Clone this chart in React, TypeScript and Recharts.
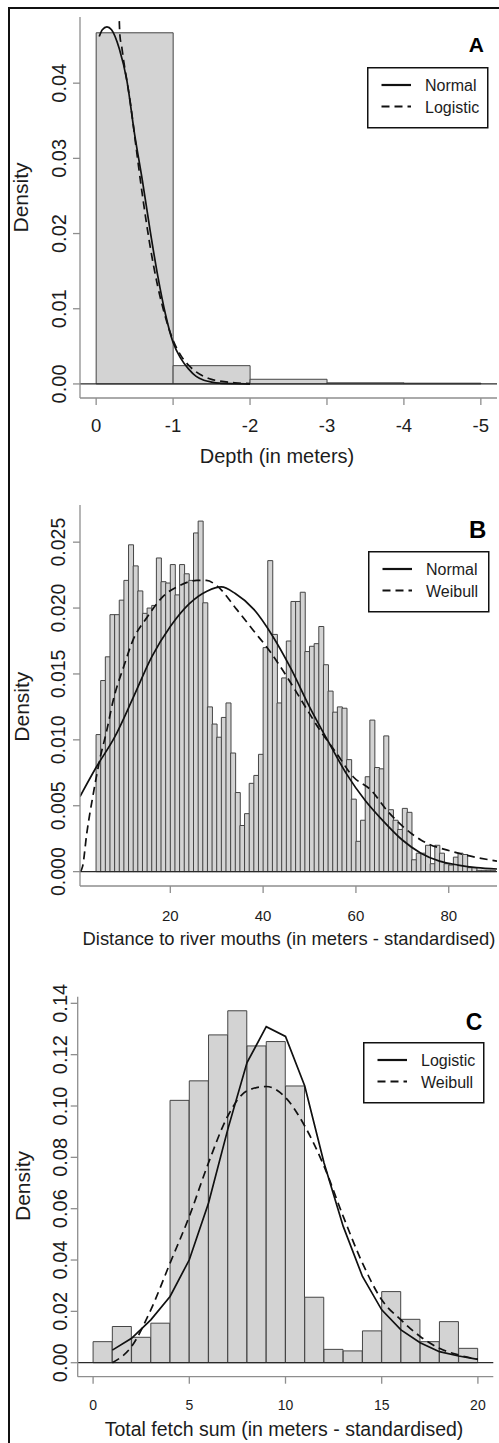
import React from 'react';
import { ComposedChart, Bar, Line, XAxis, YAxis, ReferenceLine, Legend } from 'recharts';

// ---- Panel A: depth ----
const depthMid = [-0.5, -1.5, -2.5, -3.5, -4.5];
const depthDensity = [0.0467, 0.00243, 0.00062, 0.00015, 0.0001];
const depthTicks = [0, -1, -2, -3, -4, -5];
const depthTickLabels = ['0', '-1', '-2', '-3', '-4', '-5'];
const depthYTicks = [0, 0.01, 0.02, 0.03, 0.04];
const depthYLabels = ['0.00', '0.01', '0.02', '0.03', '0.04'];
const normalDepthX = [-0.04, -0.08, -0.14, -0.2, -0.3, -0.4, -0.5, -0.6, -0.7, -0.8, -0.9, -1.0, -1.1, -1.2, -1.3, -1.4, -1.5, -1.6, -1.8, -2.0];
const normalDepthY = [0.0462, 0.0471, 0.0475, 0.0471, 0.0446, 0.0403, 0.0332, 0.0271, 0.0205, 0.0144, 0.0093, 0.0055, 0.0034, 0.002, 0.001, 0.0005, 0.00025, 0.0001, 0.00003, 0];
const logisticDepthX = [-0.295, -0.31, -0.33, -0.36, -0.4, -0.45, -0.5, -0.6, -0.7, -0.8, -0.9, -1.0, -1.1, -1.2, -1.3, -1.4, -1.5, -1.6, -1.8, -2.0];
const logisticDepthY = [0.05, 0.0462, 0.045, 0.0428, 0.0403, 0.037, 0.033, 0.0252, 0.0184, 0.013, 0.0089, 0.0058, 0.0038, 0.0025, 0.0016, 0.001, 0.0006, 0.0004, 0.00015, 0.00005];

// ---- Panel B: distance to river mouths ----
const distMid = [
  4.5, 5.5, 6.5, 7.5, 8.5, 9.5, 10.5, 11.5, 12.5, 13.5,
  14.5, 15.5, 16.5, 17.5, 18.5, 19.5, 20.5, 21.5, 22.5, 23.5,
  24.5, 25.5, 26.5, 27.5, 28.5, 29.5, 30.5, 31.5, 32.5, 33.5,
  34.5, 35.5, 36.5, 37.5, 38.5, 39.5, 40.5, 41.5, 42.5, 43.5,
  44.5, 45.5, 46.5, 47.5, 48.5, 49.5, 50.5, 51.5, 52.5, 53.5,
  54.5, 55.5, 56.5, 57.5, 58.5, 59.5, 60.5, 61.5, 62.5, 63.5,
  64.5, 65.5, 66.5, 67.5, 68.5, 69.5, 70.5, 71.5, 72.5, 73.5,
  74.5, 75.5, 76.5, 77.5, 78.5, 79.5, 80.5, 81.5, 82.5, 83.5,
  84.5, 85.5, 86.5, 87.5, 88.5, 89.5,
];
const distDensity = [
  0.0104, 0.0145, 0.0163, 0.0195, 0.0195, 0.0206, 0.0221, 0.0248, 0.0232, 0.0213,
  0.0196, 0.02, 0.0202, 0.0238, 0.022, 0.0219, 0.0233, 0.021, 0.0233, 0.0226,
  0.0221, 0.0257, 0.0266, 0.0204, 0.0125, 0.0112, 0.0102, 0.0117, 0.0128, 0.009,
  0.006, 0.0035, 0.0044, 0.0067, 0.0073, 0.0089, 0.017, 0.0236, 0.018, 0.0128,
  0.0147, 0.0175, 0.0205, 0.0205, 0.0212, 0.0167, 0.0171, 0.0173, 0.0186, 0.0157,
  0.0137, 0.0121, 0.0125, 0.0124, 0.0085, 0.0055, 0.0023, 0.0039, 0.0072, 0.0115,
  0.0079, 0.0078, 0.0103, 0.0047, 0.0039, 0.0032, 0.0048, 0.0045, 0.0009, 0.0014,
  0.0014, 0.002, 0.0006, 0.002, 0.0014, 0.0006, 0.0005, 0.0011, 0.0014, 0.0013,
  0.0003, 0.0003, 0.0001, 0.0001, 0.0001, 0.0001,
];
const distTicks = [20, 40, 60, 80];
const distTickLabels = ['20', '40', '60', '80'];
const distYTicks = [0, 0.005, 0.01, 0.015, 0.02, 0.025];
const distYLabels = ['0.000', '0.005', '0.010', '0.015', '0.020', '0.025'];
const normalDistX = [0.54, 4, 8, 12, 16, 20, 24, 28, 31, 34, 38, 42, 46, 50, 54, 58, 62, 66, 70, 74, 78, 82, 86, 90.4];
const normalDistY = [0.0057, 0.0079, 0.0102, 0.0132, 0.0163, 0.0186, 0.0203, 0.0213, 0.0216, 0.0211, 0.0199, 0.0179, 0.0154, 0.0125, 0.0099, 0.0074, 0.0054, 0.0038, 0.0024, 0.0014, 0.0008, 0.0005, 0.0003, 0.0002];
const weibullDistX = [0.6, 1.1, 2, 3.4, 4.8, 6.3, 7.7, 10, 12, 15, 18.5, 22, 25.7, 27.8, 30, 34.3, 37.9, 41.5, 45.1, 48.6, 52.3, 55.8, 59.4, 63.2, 66.8, 74, 81, 90.4];
const weibullDistY = [0, 0.0004, 0.0029, 0.0059, 0.0085, 0.0107, 0.013, 0.0156, 0.0176, 0.0193, 0.0209, 0.0217, 0.0221, 0.0221, 0.0217, 0.0199, 0.0183, 0.0167, 0.0148, 0.0128, 0.0107, 0.009, 0.0072, 0.0062, 0.0046, 0.0024, 0.0015, 0.0008];

// ---- Panel C: total fetch sum ----
const fetchMid = [0.5, 1.5, 2.5, 3.5, 4.5, 5.5, 6.5, 7.5, 8.5, 9.5, 10.5, 11.5, 12.5, 13.5, 14.5, 15.5, 16.5, 17.5, 18.5, 19.5];
const fetchDensity = [0.0082, 0.0141, 0.0099, 0.0154, 0.1022, 0.1098, 0.1277, 0.1371, 0.1234, 0.1251, 0.1078, 0.0255, 0.0052, 0.0046, 0.0124, 0.0277, 0.0169, 0.0082, 0.016, 0.0056];
const fetchTicks = [0, 5, 10, 15, 20];
const fetchTickLabels = ['0', '5', '10', '15', '20'];
const fetchYTicks = [0, 0.02, 0.04, 0.06, 0.08, 0.1, 0.12, 0.14];
const fetchYLabels = ['0.00', '0.02', '0.04', '0.06', '0.08', '0.10', '0.12', '0.14'];
const fetchCurveX = [1, 2, 3, 4, 5, 6, 7, 8, 9, 10, 11, 12, 13, 14, 15, 16, 17, 18, 19, 20];
const logisticFetchY = [0.0049, 0.0095, 0.0167, 0.0258, 0.0401, 0.0622, 0.0909, 0.1169, 0.1309, 0.1271, 0.1078, 0.0779, 0.0531, 0.0336, 0.0206, 0.0128, 0.0078, 0.0043, 0.0026, 0.0013];
const weibullFetchY = [0, 0.0063, 0.0206, 0.0388, 0.057, 0.0779, 0.0961, 0.1059, 0.1076, 0.1033, 0.0922, 0.0766, 0.057, 0.0388, 0.0245, 0.0167, 0.0102, 0.0056, 0.003, 0.0013];

const FONT = "'Liberation Sans', Arial, Helvetica, sans-serif";
const NARROW = "'Liberation Sans Narrow', 'Arial Narrow', 'Liberation Sans', Arial, sans-serif";
const INK = '#1c1c1c';
const FRAME = '#8e8e8e';
const DASH = '8 5';

interface Curve {
  name: string;
  xs: number[];
  ys: number[];
  dashed?: boolean;
  kind: 'monotone' | 'linear';
}

interface PanelSpec {
  letter: string;
  top: number;
  height: number;
  box: { left: number; top: number; right: number; bottom: number };
  mids: number[];
  dens: number[];
  xDomain: [number, number];
  reversed?: boolean;
  xTicks: number[];
  xLabels: string[];
  xTickSize: number;
  xTickBase: number;
  yDomain: [number, number];
  yTicks: number[];
  yLabels: string[];
  yTickSize: number;
  yTickBase: number;
  xTitle: string;
  xTitleSize: number;
  xTitleX: number;
  xTitleBase: number;
  yTitleBase: number;
  yTitleY: number;
  curves: Curve[];
  legend: { left: number; top: number };
  letterSize: number;
  letterRight: number;
  letterBase: number;
}

// text placed at fixed chart coordinates, Recharts hands it the axis props
const Title = ({ px, py, rotate, text, size }: any) => (
  <text
    x={px}
    y={py}
    transform={rotate ? `rotate(-90 ${px} ${py})` : undefined}
    textAnchor="middle"
    fontSize={size}
    fontFamily={FONT}
    fill={INK}
  >
    {text}
  </text>
);

const Panel = ({ spec }: { spec: PanelSpec }) => {
  const W = 499;
  const t = spec.top;
  const plotTop = spec.box.top - t;
  const plotBottom = spec.box.bottom - t;
  const barData = spec.mids.map((m, i) => ({ mid: m, density: spec.dens[i] }));
  const names = spec.curves.map((c) => c.name);

  const XTick = (props: any) => {
    const i = spec.xTicks.indexOf(props.payload.value);
    return (
      <text x={props.x} y={spec.xTickBase - t} textAnchor="middle" fontSize={spec.xTickSize} fontFamily={FONT} fill={INK}>
        {spec.xLabels[i]}
      </text>
    );
  };

  const YTick = (props: any) => {
    const i = spec.yTicks.indexOf(props.payload.value);
    const bx = spec.yTickBase;
    return (
      <text
        x={bx}
        y={props.y}
        transform={`rotate(-90 ${bx} ${props.y})`}
        textAnchor="middle"
        fontSize={spec.yTickSize}
        fontFamily={FONT}
        fill={INK}
      >
        {spec.yLabels[i]}
      </text>
    );
  };

  const renderLegend = (props: any) => {
    const entries = (props.payload || [])
      .filter((e: any) => e.type !== 'none')
      .sort((a: any, b: any) => names.indexOf(a.value) - names.indexOf(b.value));
    const lx = spec.letterRight - spec.legend.left;
    const ly = 32 - (spec.legend.top - spec.letterBase);
    return (
      <svg width={124} height={96} style={{ display: 'block', overflow: 'visible' }}>
        <text x={lx} y={ly} textAnchor="end" fontSize={spec.letterSize} fontWeight={700} fontFamily={NARROW} fill="#000">
          {spec.letter}
        </text>
        <rect x={0.75} y={32.75} width={120} height={60} fill="#fff" stroke="#111" strokeWidth={1.5} />
        {entries.map((e: any, i: number) => {
          const c = spec.curves.find((cv) => cv.name === e.value);
          const y = 32 + 18 + i * 21.5;
          return (
            <g key={e.value}>
              <line x1={14.5} x2={44} y1={y} y2={y} stroke="#111" strokeWidth={2.2} strokeDasharray={c && c.dashed ? DASH : undefined} />
              <text x={58} y={y + 6} fontSize={16} fontFamily={FONT} fill={INK}>
                {e.value}
              </text>
            </g>
          );
        })}
      </svg>
    );
  };

  return (
    <div style={{ position: 'absolute', left: 0, top: t }}>
      <ComposedChart
        width={W}
        height={spec.height}
        data={barData}
        margin={{ top: plotTop, right: W - spec.box.right, bottom: 0, left: 0 }}
        barCategoryGap={0}
        barGap={0}
      >
        <XAxis
          xAxisId="bars"
          dataKey="mid"
          type="number"
          domain={spec.xDomain}
          reversed={spec.reversed}
          allowDataOverflow
          ticks={spec.xTicks}
          interval={0}
          height={spec.height - plotBottom}
          tickSize={7}
          axisLine={{ stroke: FRAME, strokeWidth: 1.3 }}
          tickLine={{ stroke: FRAME, strokeWidth: 1.3 }}
          tick={<XTick />}
          label={<Title px={spec.xTitleX} py={spec.xTitleBase - t} text={spec.xTitle} size={spec.xTitleSize} />}
        />
        <XAxis xAxisId="curves" dataKey="x" type="number" domain={spec.xDomain} reversed={spec.reversed} allowDataOverflow hide />
        <XAxis
          xAxisId="frameTop"
          orientation="top"
          type="number"
          domain={spec.xDomain}
          allowDataOverflow
          height={0}
          tick={false}
          tickLine={false}
          axisLine={{ stroke: FRAME, strokeWidth: 1.3 }}
        />
        <YAxis
          yAxisId="d"
          type="number"
          domain={spec.yDomain}
          allowDataOverflow
          ticks={spec.yTicks}
          interval={0}
          width={spec.box.left}
          tickSize={7}
          axisLine={{ stroke: FRAME, strokeWidth: 1.3 }}
          tickLine={{ stroke: FRAME, strokeWidth: 1.3 }}
          tick={<YTick />}
          label={<Title px={spec.yTitleBase} py={spec.yTitleY - t} rotate text="Density" size={21} />}
        />
        <YAxis
          yAxisId="frameRight"
          orientation="right"
          type="number"
          domain={spec.yDomain}
          allowDataOverflow
          width={0}
          tick={false}
          tickLine={false}
          axisLine={{ stroke: FRAME, strokeWidth: 1.3 }}
        />
        <Bar
          xAxisId="bars"
          yAxisId="d"
          dataKey="density"
          fill="#d3d3d3"
          stroke="#454545"
          strokeWidth={1}
          legendType="none"
          isAnimationActive={false}
        />
        <ReferenceLine xAxisId="bars" yAxisId="d" y={0} stroke="#2a2a2a" strokeWidth={1.3} />
        {spec.curves.map((c) => (
          <Line
            key={c.name}
            xAxisId="curves"
            yAxisId="d"
            data={c.xs.map((x, i) => ({ x, y: c.ys[i] }))}
            dataKey="y"
            name={c.name}
            type={c.kind}
            stroke="#111"
            strokeWidth={1.7}
            strokeDasharray={c.dashed ? DASH : undefined}
            dot={false}
            activeDot={false}
            isAnimationActive={false}
          />
        ))}
        <Legend
          layout="vertical"
          align="center"
          verticalAlign="middle"
          content={renderLegend}
          wrapperStyle={{ left: spec.legend.left, top: spec.legend.top - t - 32, width: 124, height: 96 }}
        />
      </ComposedChart>
    </div>
  );
};

const panels: PanelSpec[] = [
  {
    letter: 'A',
    top: 0,
    height: 478,
    box: { left: 80, top: 17, right: 497, bottom: 398 },
    mids: depthMid,
    dens: depthDensity,
    xDomain: [-5.21, 0.21],
    reversed: true,
    xTicks: depthTicks,
    xLabels: depthTickLabels,
    xTickSize: 18.5,
    xTickBase: 431.5,
    yDomain: [-0.00187, 0.0488],
    yTicks: depthYTicks,
    yLabels: depthYLabels,
    yTickSize: 20,
    yTickBase: 66.5,
    xTitle: 'Depth (in meters)',
    xTitleSize: 20,
    xTitleX: 277,
    xTitleBase: 463,
    yTitleBase: 28,
    yTitleY: 197.5,
    curves: [
      { name: 'Normal', xs: normalDepthX, ys: normalDepthY, kind: 'monotone' },
      { name: 'Logistic', xs: logisticDepthX, ys: logisticDepthY, dashed: true, kind: 'monotone' },
    ],
    legend: { left: 366.7, top: 66.7 },
    letterSize: 21,
    letterRight: 483.5,
    letterBase: 52,
  },
  {
    letter: 'B',
    top: 478,
    height: 478,
    box: { left: 80, top: 505, right: 497, bottom: 886 },
    mids: distMid,
    dens: distDensity,
    xDomain: [0.54, 90.4],
    xTicks: distTicks,
    xLabels: distTickLabels,
    xTickSize: 15,
    xTickBase: 920.5,
    yDomain: [-0.00109, 0.02782],
    yTicks: distYTicks,
    yLabels: distYLabels,
    yTickSize: 19.5,
    yTickBase: 65,
    xTitle: 'Distance to river mouths (in meters - standardised)',
    xTitleSize: 18.4,
    xTitleX: 289,
    xTitleBase: 945,
    yTitleBase: 29.5,
    yTitleY: 706.7,
    curves: [
      { name: 'Normal', xs: normalDistX, ys: normalDistY, kind: 'monotone' },
      { name: 'Weibull', xs: weibullDistX, ys: weibullDistY, dashed: true, kind: 'monotone' },
    ],
    legend: { left: 367.7, top: 550.7 },
    letterSize: 24,
    letterRight: 486,
    letterBase: 537.5,
  },
  {
    letter: 'C',
    top: 956,
    height: 487,
    box: { left: 77.7, top: 996.7, right: 493.3, bottom: 1376.7 },
    mids: fetchMid,
    dens: fetchDensity,
    xDomain: [-0.8, 20.8],
    xTicks: fetchTicks,
    xLabels: fetchTickLabels,
    xTickSize: 14,
    xTickBase: 1410,
    yDomain: [-0.00545, 0.14258],
    yTicks: fetchYTicks,
    yLabels: fetchYLabels,
    yTickSize: 20,
    yTickBase: 66.7,
    xTitle: 'Total fetch sum (in meters - standardised)',
    xTitleSize: 19.5,
    xTitleX: 284,
    xTitleBase: 1436,
    yTitleBase: 29.5,
    yTitleY: 1186,
    curves: [
      { name: 'Logistic', xs: fetchCurveX, ys: logisticFetchY, kind: 'linear' },
      { name: 'Weibull', xs: fetchCurveX, ys: weibullFetchY, dashed: true, kind: 'monotone' },
    ],
    legend: { left: 362.7, top: 1042.3 },
    letterSize: 23,
    letterRight: 482,
    letterBase: 1030,
  },
];

export default function App() {
  return (
    <div style={{ position: 'absolute', left: 0, top: 0, width: 499, height: 1443, background: '#fff', overflow: 'hidden', fontFamily: FONT }}>
      {panels.map((p) => (
        <Panel key={p.letter} spec={p} />
      ))}
      {/* figure frame, only top and left edges are visible */}
      <div style={{ position: 'absolute', left: 8, top: 7, width: 491, height: 2, background: '#111' }} />
      <div style={{ position: 'absolute', left: 8, top: 7, width: 2, height: 1436, background: '#111' }} />
    </div>
  );
}
